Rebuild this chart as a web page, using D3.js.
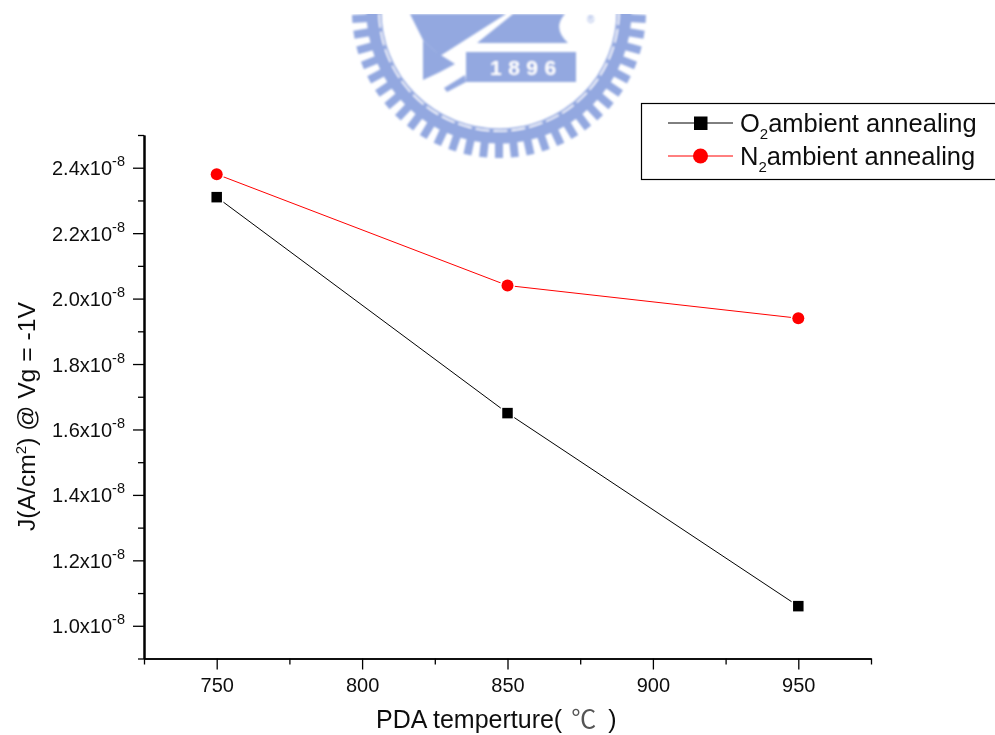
<!DOCTYPE html>
<html lang="en">
<head>
    <meta charset="UTF-8">
    <title>PDA temperature</title>
    <script src="https://d3js.org/d3.v7.min.js"></script>
    <style>
        html, body { margin: 0; padding: 0; background: #fff; }
        svg { display: block; }
        text { font-family: "Liberation Sans", "Noto Sans CJK SC", sans-serif; fill: #111; }
    </style>
</head>
<body>
    <div id="chart"></div>
    <script>
        // values (y values are in units of 1e-8)
        var temperatures = [750, 850, 950];
        var o2Values = [2.31, 1.65, 1.06];
        var n2Values = [2.38, 2.04, 1.94];
        var xMajorTicks = [750, 800, 850, 900, 950];
        var xMinorTicks = [725, 775, 825, 875, 925, 975];
        var yMajorTicks = [1.0, 1.2, 1.4, 1.6, 1.8, 2.0, 2.2, 2.4];
        var yMinorTicks = [0.9, 1.1, 1.3, 1.5, 1.7, 1.9, 2.1, 2.3, 2.5];

        var width = 995, height = 735;
        var blue = "#93a8e0";

        var svg = d3.select("#chart").append("svg")
            .attr("width", width)
            .attr("height", height);

        var defs = svg.append("defs");
        defs.append("clipPath").attr("id", "sealClip")
            .append("rect").attr("x", 340).attr("y", 14).attr("width", 320).attr("height", 150);
        defs.append("filter").attr("id", "sealBlur")
            .append("feGaussianBlur").attr("stdDeviation", 1.1);
        defs.append("filter").attr("id", "soft")
            .append("feGaussianBlur").attr("stdDeviation", 0.35);

        // university seal behind the chart, cut off at the top of the page
        var seal = svg.append("g")
            .attr("clip-path", "url(#sealClip)")
            .append("g")
            .attr("filter", "url(#sealBlur)");
        var sealX = 499, sealY = 11;

        seal.append("circle")
            .attr("cx", sealX).attr("cy", sealY).attr("r", 125)
            .attr("fill", "none").attr("stroke", blue).attr("stroke-width", 15);
        seal.selectAll(".tooth")
            .data(d3.range(58))
            .enter().append("rect")
            .attr("class", "tooth")
            .attr("x", sealX - 4)
            .attr("y", sealY + 130)
            .attr("width", 8)
            .attr("height", 17)
            .attr("fill", blue)
            .attr("transform", function (d) {
                return "rotate(" + (d * 360 / 58) + "," + sealX + "," + sealY + ")";
            });
        seal.append("circle")
            .attr("cx", sealX).attr("cy", sealY).attr("r", 120)
            .attr("fill", "none").attr("stroke", "#fff").attr("stroke-width", 1.6)
            .attr("stroke-dasharray", "14 4");

        var sealShapes = [
            "M410,14 L506,14 L440,56 L423,40 Z",
            "M513,14 L565,14 Q552,28 568,43 L477,43 Z",
            "M466,52 L576,52 L576,82 L466,82 Z",
            "M423,40 L436,52 L455,64 L440,72 L423,80 Z",
            "M444,88 L465,75 L466,82 L447,92 Z"
        ];
        seal.selectAll(".shape")
            .data(sealShapes)
            .enter().append("path")
            .attr("class", "shape")
            .attr("d", function (d) { return d; })
            .attr("fill", blue);
        seal.append("text")
            .attr("x", 490).attr("y", 75)
            .attr("font-size", 21)
            .attr("font-weight", "bold")
            .attr("letter-spacing", 6.5)
            .style("fill", "#fff")
            .text("1896");
        seal.append("text")
            .attr("x", 587).attr("y", 23)
            .attr("font-size", 10)
            .style("fill", blue)
            .text("®");

        // scales and axes
        var x = d3.scaleLinear().domain([725, 975]).range([144, 871]);
        var y = d3.scaleLinear().domain([0.9, 2.5]).range([658.5, 135]);

        var chart = svg.append("g").attr("filter", "url(#soft)");

        function styleAxis(g, width) {
            g.selectAll("path").attr("stroke", "#000").attr("stroke-width", width);
            g.selectAll("line").attr("stroke", "#000").attr("stroke-width", 1.3);
        }

        chart.append("g")
            .attr("transform", "translate(0,658.5)")
            .call(d3.axisBottom(x).tickValues(xMinorTicks).tickSize(6).tickSizeOuter(0).tickFormat(""))
            .call(styleAxis, 1.6);
        var xAxis = chart.append("g")
            .attr("transform", "translate(0,658.5)")
            .call(d3.axisBottom(x).tickValues(xMajorTicks).tickSize(11).tickSizeOuter(0).tickFormat(d3.format("d")))
            .call(styleAxis, 1.6);
        xAxis.selectAll("text")
            .attr("y", 14)
            .attr("dy", "0.95em")
            .attr("font-size", 20)
            .attr("font-family", null);

        chart.append("g")
            .attr("transform", "translate(144,0)")
            .call(d3.axisLeft(y).tickValues(yMinorTicks).tickSize(6).tickSizeOuter(0).tickFormat(""))
            .call(styleAxis, 2);
        var yAxis = chart.append("g")
            .attr("transform", "translate(144,0)")
            .call(d3.axisLeft(y).tickValues(yMajorTicks).tickSize(11).tickSizeOuter(0).tickFormat(""))
            .call(styleAxis, 2);
        var yLabels = yAxis.selectAll("text")
            .attr("x", -92)
            .attr("y", 7)
            .attr("dy", 0)
            .attr("text-anchor", "start")
            .attr("font-size", 20)
            .attr("font-family", null);
        yLabels.append("tspan").text(function (d) { return d.toFixed(1) + "x10"; });
        yLabels.append("tspan").attr("font-size", 14.5).attr("dy", -9).text("-8");

        // axis titles
        var xTitle = chart.append("text")
            .attr("x", 376).attr("y", 728)
            .attr("font-size", 25);
        xTitle.append("tspan").text("PDA temperture(");
        xTitle.append("tspan").attr("dx", 9).style("fill", "#555").text("℃");
        xTitle.append("tspan").attr("dx", 12).text(")");

        var yTitle = chart.append("text")
            .attr("transform", "translate(35,531) rotate(-90)")
            .attr("font-size", 24.7);
        yTitle.append("tspan").text("J(A/cm");
        yTitle.append("tspan").attr("font-size", 15).attr("dy", -9).text("2");
        yTitle.append("tspan").attr("dy", 9).text(") @ Vg = -1V");

        // series
        var line = d3.line()
            .x(function (d, i) { return x(temperatures[i]); })
            .y(function (d) { return y(d); });

        function drawSquare(g, cx, cy, size) {
            g.append("rect")
                .attr("x", cx - size / 2).attr("y", cy - size / 2)
                .attr("width", size).attr("height", size)
                .attr("fill", "#000")
                .attr("stroke", "#fff").attr("stroke-width", 3)
                .attr("paint-order", "stroke");
        }
        function drawCircle(g, cx, cy, r) {
            g.append("circle")
                .attr("cx", cx).attr("cy", cy).attr("r", r)
                .attr("fill", "#ff0000")
                .attr("stroke", "#fff").attr("stroke-width", 3)
                .attr("paint-order", "stroke");
        }

        chart.append("path").datum(o2Values)
            .attr("d", line).attr("fill", "none").attr("stroke", "#000").attr("stroke-width", 1);
        chart.append("path").datum(n2Values)
            .attr("d", line).attr("fill", "none").attr("stroke", "#ff0000").attr("stroke-width", 1);

        o2Values.forEach(function (d, i) { drawSquare(chart, x(temperatures[i]), y(d), 10.5); });
        n2Values.forEach(function (d, i) { drawCircle(chart, x(temperatures[i]), y(d), 6); });

        // legend, its right side runs off the page
        var legend = chart.append("g");
        legend.append("rect")
            .attr("x", 641.5).attr("y", 103.5)
            .attr("width", 380).attr("height", 76)
            .attr("fill", "#fff")
            .attr("stroke", "#000").attr("stroke-width", 1.2);

        legend.append("line").attr("x1", 668).attr("x2", 733).attr("y1", 123).attr("y2", 123)
            .attr("stroke", "#000").attr("stroke-width", 1);
        legend.append("rect").attr("x", 694).attr("y", 116.5).attr("width", 13.5).attr("height", 13.5).attr("fill", "#000");
        legend.append("line").attr("x1", 668).attr("x2", 733).attr("y1", 156).attr("y2", 156)
            .attr("stroke", "#ff0000").attr("stroke-width", 1);
        legend.append("circle").attr("cx", 700.5).attr("cy", 156).attr("r", 7.5).attr("fill", "#ff0000");

        var o2Label = legend.append("text").attr("x", 740).attr("y", 132).attr("font-size", 25.5);
        o2Label.append("tspan").text("O");
        o2Label.append("tspan").attr("font-size", 15).attr("dy", 7).text("2");
        o2Label.append("tspan").attr("dy", -7).text("ambient annealing");

        var n2Label = legend.append("text").attr("x", 740).attr("y", 165).attr("font-size", 25.5);
        n2Label.append("tspan").text("N");
        n2Label.append("tspan").attr("font-size", 15).attr("dy", 7).text("2");
        n2Label.append("tspan").attr("dy", -7).text("ambient annealing");
    </script>
</body>
</html>
